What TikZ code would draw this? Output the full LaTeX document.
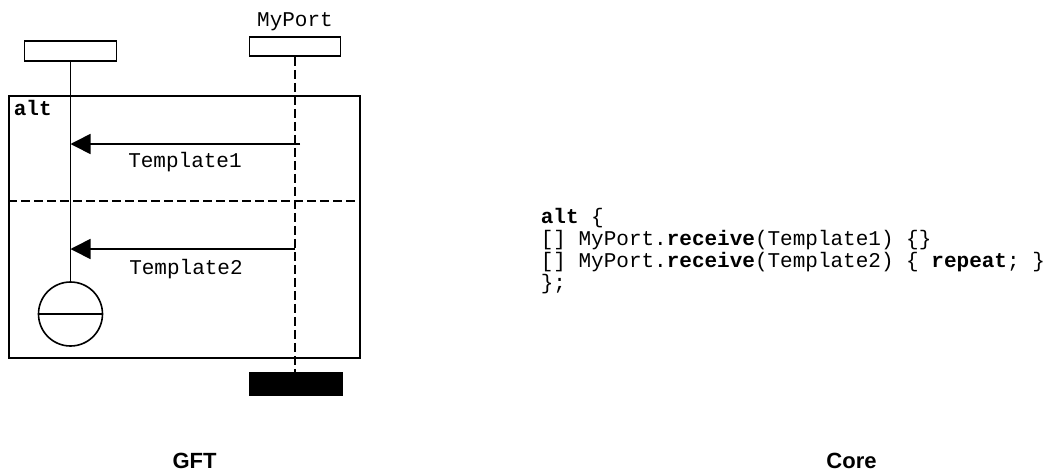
\documentclass[tikz,border=0pt]{standalone}
\usepackage{fontspec}
\setmainfont{Liberation Serif}
\setmonofont{Liberation Mono}
\setsansfont{Liberation Sans}
\usetikzlibrary{arrows.meta}
\begin{document}
\begin{tikzpicture}[x=1pt,y=-1pt, line width=1.6pt,
  head/.style={draw, rectangle, minimum width=92pt, minimum height=20pt, inner sep=0pt, line width=1.6pt},
  codeline/.style={anchor=base west, inner sep=0pt, font=\fontsize{21}{22}\selectfont\ttfamily},
  lbl/.style={anchor=base, inner sep=0pt, font=\fontsize{21}{22}\selectfont\ttfamily},
  msg/.style={-{Triangle[length=20pt,width=20pt]}, line width=1.6pt},
  dashedline/.style={dash pattern=on 9pt off 4pt, line width=1.6pt},
  caption/.style={anchor=base, inner sep=0pt, font=\fontsize{22}{24}\selectfont\sffamily\bfseries}]
\useasboundingbox (0,0) rectangle (1050,472);
% instance heads
\node[head] (inst) at (70.5,51) {};
\node[head, minimum width=91pt, minimum height=19pt] (port) at (295,46.5) {};
\node[lbl] (portname) at (295,26) {MyPort};
\node[draw, fill=black, minimum width=92pt, minimum height=22pt, inner sep=0pt] (portend) at (296,384) {};
% alt frame
\node[draw, minimum width=351pt, minimum height=262pt, inner sep=0pt, anchor=north west] (frame) at (8,95) {};
\node[anchor=base west, inner sep=0pt, font=\fontsize{21}{22}\selectfont\ttfamily\bfseries] (alt) at (13,115) {alt};
\coordinate (sepL) at (8,201);
\coordinate (sepR) at (359,201);
\draw[dashedline] (sepL) -- (sepR);
% stop / repeat symbol
\node[draw, circle, minimum size=64pt, inner sep=0pt] (stop) at (70.5,314) {};
\draw (stop.west) -- (stop.east);
% lifelines
\draw (inst.south) -- (stop.north);
\draw[dashedline] (port.south) -- (port.south |- portend.north);
% messages
\coordinate (m1s) at (300,144);
\coordinate (m2s) at (295,249);
\draw[msg] (m1s) -- (m1s -| inst.south);
\draw[msg] (m2s) -- (m2s -| inst.south);
\node[lbl] (t1) at (185,167) {Template1};
\node[lbl] (t2) at (186,274) {Template2};
% core notation
\node[codeline] (c1) at (540,223) {\textbf{alt} \{};
\node[codeline] (c2) at (540,245) {[] MyPort.\textbf{receive}(Template1) \{\}};
\node[codeline] (c3) at (540,267) {[] MyPort.\textbf{receive}(Template2) \{ \textbf{repeat}; \}};
\node[codeline] (c4) at (540,289) {\};};
% captions
\node[caption] (gft) at (194.5,468) {GFT};
\node[caption] (core) at (851.5,468) {Core};
\end{tikzpicture}
\end{document}
